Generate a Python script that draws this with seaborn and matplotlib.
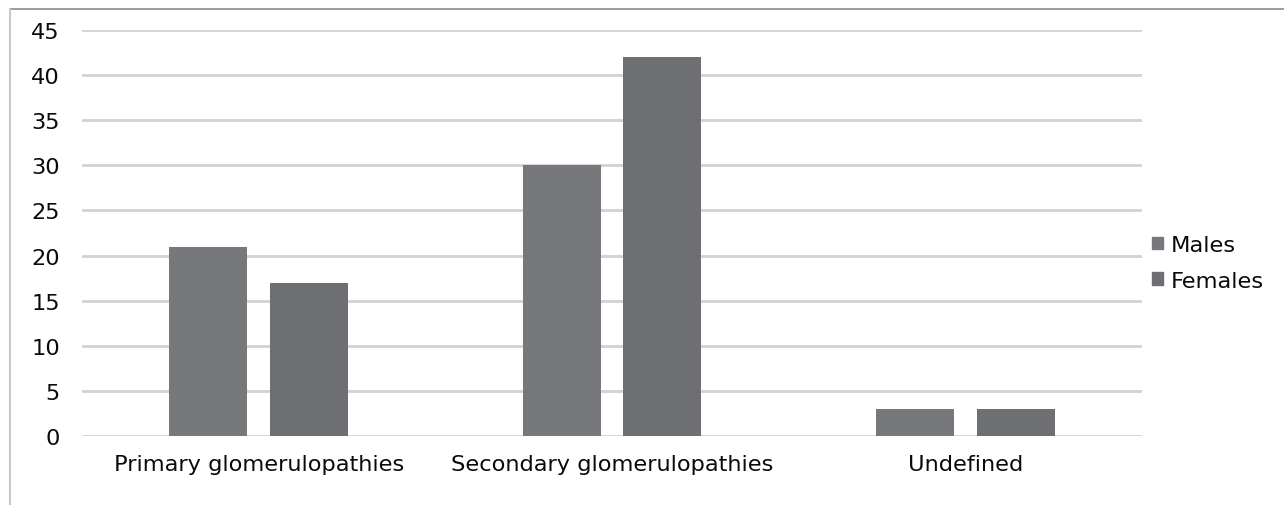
import numpy as np
import pandas as pd
import matplotlib
matplotlib.use("Agg")
import matplotlib.pyplot as plt
from matplotlib.lines import Line2D
import seaborn as sns

categories = ["Primary glomerulopathies", "Secondary glomerulopathies", "Undefined"]
males = [21, 30, 3]
females = [17, 42, 3]
series = ["Males", "Females"]
colors = ["#77787b", "#6e6f72"]

df = pd.DataFrame({
    "category": categories * 2,
    "count": males + females,
    "sex": [series[0]] * len(categories) + [series[1]] * len(categories),
})

sns.set_theme(style="white")
plt.rcParams["font.family"] = ["DejaVu Sans"]
plt.rcParams["text.color"] = "#000000"

fig = plt.figure(figsize=(12.84, 5.06), dpi=100)
ax = fig.add_axes([0.0639, 0.1364, 0.8255, 0.8023])

sns.barplot(data=df, x="category", y="count", hue="sex", order=categories,
            hue_order=series, palette=colors, width=0.57, gap=0.225,
            saturation=1, linewidth=0, ax=ax, zorder=3)

ax.set_ylim(0, 45)
ax.set_yticks(np.arange(0, 50, 5))
ax.set_xlim(-0.5, len(categories) - 0.5)
ax.yaxis.grid(True, color="#d2d2d2", linewidth=2)
ax.set_axisbelow(True)
for s in ax.spines.values():
    s.set_visible(False)
ax.set_xlabel("")
ax.set_ylabel("")
fs = 16.2
ax.tick_params(axis="y", labelsize=fs, pad=16, length=0, labelcolor="#0a0a0a")
ax.tick_params(axis="x", labelsize=fs, pad=13, length=0, labelcolor="#0a0a0a")

handles = [plt.Rectangle((0, 0), 1, 1, color=c) for c in colors]
leg = ax.legend(handles, series, loc="center left", bbox_to_anchor=(0.995, 0.427),
                frameon=False, fontsize=fs, handlelength=0.45, handleheight=0.45,
                handletextpad=0.35, labelspacing=0.7, borderaxespad=0.3)
for t in leg.get_texts():
    t.set_color("#0a0a0a")

# outer frame lines of the original figure
fig.add_artist(Line2D([10 / 1284, 1], [1 - 10 / 506, 1 - 10 / 506],
                      transform=fig.transFigure, color="#8a8a8a", linewidth=1.2))
fig.add_artist(Line2D([10 / 1284, 10 / 1284], [0, 1 - 10 / 506],
                      transform=fig.transFigure, color="#c8c8c8", linewidth=1.5))

fig.savefig("out.png", dpi=100)
